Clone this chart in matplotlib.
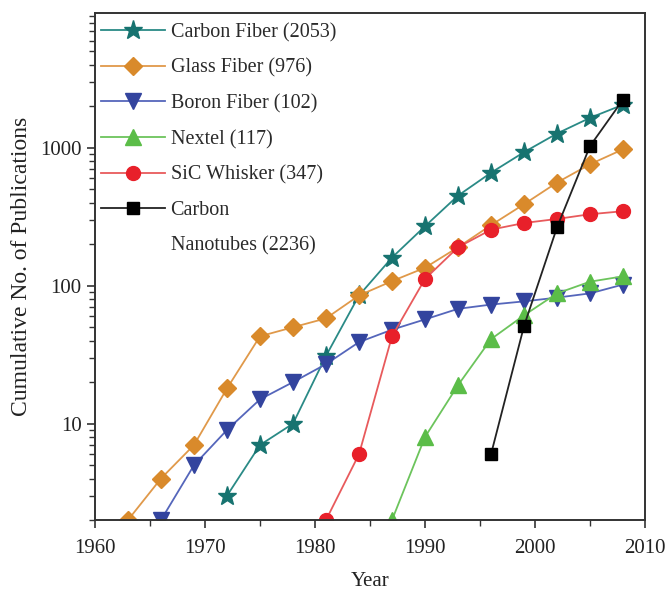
import numpy as np
import matplotlib
matplotlib.use("Agg")
import matplotlib.pyplot as plt
from matplotlib.ticker import LogLocator, FixedLocator, NullFormatter

# 数据
years_glass = [1963, 1966, 1969, 1972, 1975, 1978, 1981, 1984, 1987, 1990, 1993, 1996, 1999, 2002, 2005, 2008]
glass = [2, 4, 7, 18, 43, 50, 58, 85, 108, 135, 190, 275, 390, 560, 760, 976]

years_boron = [1966, 1969, 1972, 1975, 1978, 1981, 1984, 1987, 1990, 1993, 1996, 1999, 2002, 2005, 2008]
boron = [2, 5, 9, 15, 20, 27, 39, 48, 57, 68, 73, 77, 82, 88, 102]

years_carbon = [1972, 1975, 1978, 1981, 1984, 1987, 1990, 1993, 1996, 1999, 2002, 2005, 2008]
carbon = [3, 7, 10, 31, 85, 160, 270, 450, 660, 930, 1270, 1650, 2053]

years_nextel = [1987, 1990, 1993, 1996, 1999, 2002, 2005, 2008]
nextel = [2, 8, 19, 41, 61, 88, 107, 117]

years_sic = [1981, 1984, 1987, 1990, 1993, 1996, 1999, 2002, 2005, 2008]
sic = [2, 6, 43, 112, 190, 255, 285, 305, 330, 347]

years_cnt = [1996, 1999, 2002, 2005, 2008]
cnt = [6, 51, 265, 1030, 2236]

labels = ['Carbon Fiber (2053)', 'Glass Fiber (976)', 'Boron Fiber (102)',
          'Nextel (117)', 'SiC Whisker (347)', 'Carbon']
cnt_label_line2 = 'Nanotubes (2236)'

plt.rcParams['font.family'] = ['Liberation Serif', 'DejaVu Serif']

fig = plt.figure(figsize=(6.68, 5.91), dpi=100)
ax = fig.add_axes([0.1422, 0.1201, 0.8234, 0.8579])

ax.plot(years_carbon, carbon, '-', color='#2a8a86', lw=1.3, marker='*', ms=14,
        mfc='#177370', mec='#177370', label=labels[0])
ax.plot(years_glass, glass, '-', color='#e0994a', lw=1.3, marker='D', ms=9.5,
        mfc='#d98a2b', mec='#d98a2b', label=labels[1])
ax.plot(years_boron, boron, '-', color='#5566bb', lw=1.3, marker='v', ms=11.5,
        mfc='#33449e', mec='#33449e', label=labels[2])
ax.plot(years_nextel, nextel, '-', color='#6cc45c', lw=1.3, marker='^', ms=11.5,
        mfc='#5bbd48', mec='#5bbd48', label=labels[3])
ax.plot(years_sic, sic, '-', color='#e85a5c', lw=1.3, marker='o', ms=10,
        mfc='#e8202a', mec='#e8202a', label=labels[4])
ax.plot(years_cnt, cnt, '-', color='#222222', lw=1.3, marker='s', ms=8,
        mfc='black', mec='black', label=labels[5])

ax.set_yscale('log')
ax.set_xlim(1960, 2010)
ax.set_ylim(2, 9500)

ax.set_xticks([1960, 1970, 1980, 1990, 2000, 2010])
ax.xaxis.set_minor_locator(FixedLocator([1965, 1975, 1985, 1995, 2005]))
ax.set_yticks([10, 100, 1000])
ax.set_yticklabels(['10', '100', '1000'])
ax.yaxis.set_minor_locator(LogLocator(base=10, subs=np.arange(2, 10)))
ax.yaxis.set_minor_formatter(NullFormatter())

ax.tick_params(axis='both', which='major', direction='out', length=6, width=1.2,
               labelsize=15, colors='#333333', labelcolor='#222222')
ax.tick_params(axis='both', which='minor', direction='out', length=4, width=1.0,
               colors='#333333')
ax.tick_params(axis='x', pad=8)
for sp in ax.spines.values():
    sp.set_linewidth(1.4)
    sp.set_color('#333333')

ax.set_xlabel('Year', fontsize=15, color='#222222', labelpad=10)
ax.set_ylabel('Cumulative No. of Publications', fontsize=17, color='#222222', labelpad=6)

leg = ax.legend(loc='upper left', bbox_to_anchor=(0.0, 0.992), frameon=False,
                fontsize=14.5, handlelength=3.2, handletextpad=0.25,
                labelspacing=0.81, borderaxespad=0.0, borderpad=0.3)
for t in leg.get_texts():
    t.set_color('#2a2a2a')

# 第二行标签放在 "Carbon" 下方
fig.canvas.draw()
last = leg.get_texts()[-1]
bb = last.get_window_extent()
x0, y0 = fig.transFigure.inverted().transform((bb.x0, bb.y0))
fig.text(x0, y0 - 35 / 591, cnt_label_line2, fontsize=14.5, color='#2a2a2a',
         ha='left', va='bottom')

fig.savefig('out.png', dpi=100)
